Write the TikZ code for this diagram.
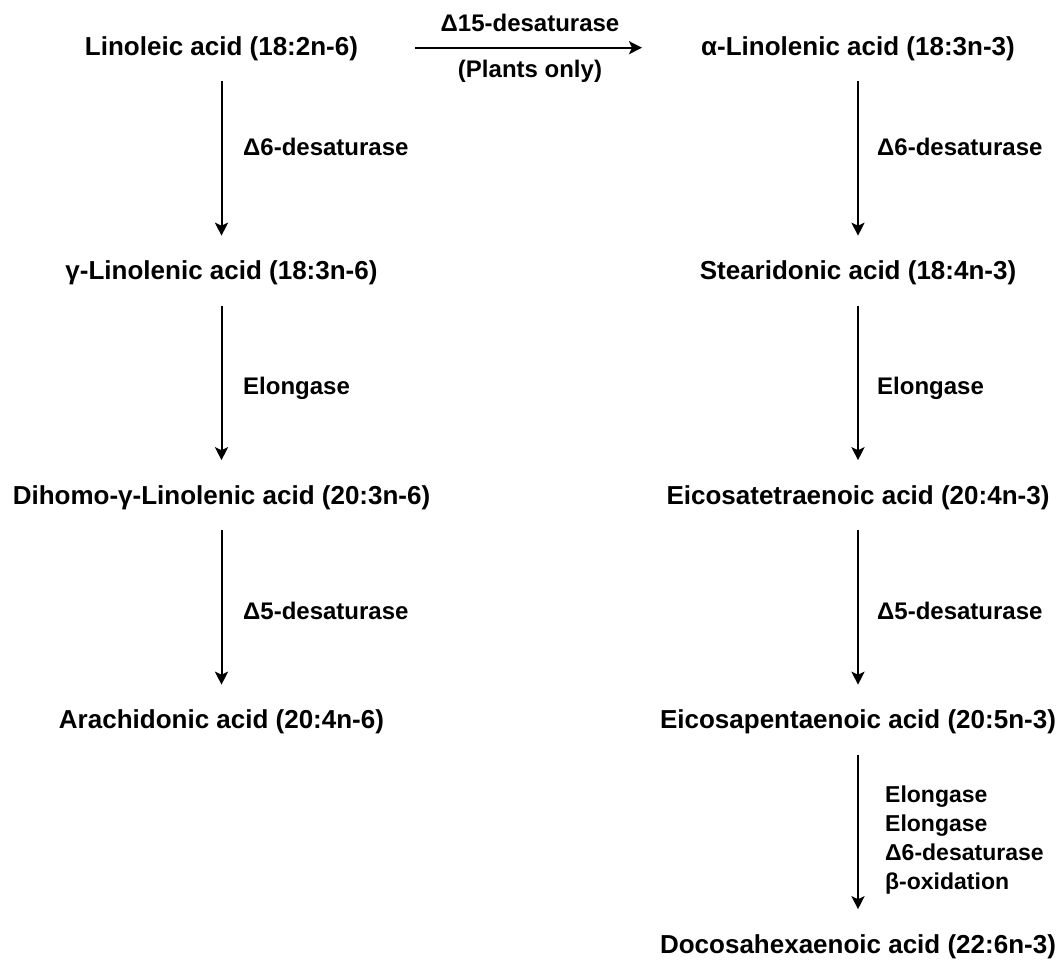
\documentclass[tikz,border=0pt]{standalone}
\usepackage{fontspec}
\setmainfont{Liberation Sans}
\usetikzlibrary{arrows.meta}
\tikzset{
  acid/.style={font=\fontsize{26}{30}\selectfont\bfseries, inner sep=0pt, text height=18.6pt, text depth=0pt, anchor=base},
  enz/.style={font=\fontsize{24}{28}\selectfont\bfseries, inner sep=0pt, anchor=base west},
  enzs/.style={font=\fontsize{23}{28}\selectfont\bfseries, inner sep=0pt, anchor=base west},
  enzc/.style={font=\fontsize{24}{28}\selectfont\bfseries, inner sep=0pt, anchor=base},
  conv/.style={line width=2pt, -{Stealth[length=13pt,width=13pt,inset=3pt]}},
  vconv/.style={conv, shorten <=26pt, shorten >=25pt}
}
\begin{document}
\begin{tikzpicture}[x=1pt,y=-1pt]
\useasboundingbox (0,0) rectangle (1063,961);
% left column
\node[acid] (l1) at (221.5,55) {Linoleic acid (18:2n-6)};
\node[acid] (l2) at (221.5,279.5) {γ-Linolenic acid (18:3n-6)};
\node[acid] (l3) at (221.5,504) {Dihomo-γ-Linolenic acid (20:3n-6)};
\node[acid] (l4) at (221.5,728.5) {Arachidonic acid (20:4n-6)};
% right column
\node[acid] (r1) at (858,55) {α-Linolenic acid (18:3n-3)};
\node[acid] (r2) at (858,279.5) {Stearidonic acid (18:4n-3)};
\node[acid] (r3) at (858,504) {Eicosatetraenoic acid (20:4n-3)};
\node[acid] (r4) at (858,728.5) {Eicosapentaenoic acid (20:5n-3)};
\node[acid] (r5) at (858,953) {Docosahexaenoic acid (22:6n-3)};
% horizontal conversion
\draw[conv, shorten <=57pt, shorten >=59pt] ([yshift=-2pt]l1.east) -- ([yshift=-2pt]r1.west);
\node[enzc] (h1) at (530,31) {Δ15-desaturase};
\node[enzc] (h2) at (530,77) {(Plants only)};
% vertical conversions
\draw[vconv] (l1.south) -- (l2.north);
\draw[vconv] (l2.south) -- (l3.north);
\draw[vconv] (l3.south) -- (l4.north);
\draw[vconv] (r1.south) -- (r2.north);
\draw[vconv] (r2.south) -- (r3.north);
\draw[vconv] (r3.south) -- (r4.north);
\draw[vconv] (r4.south) -- (r5.north);
% enzyme labels
\node[enz] (le1) at (243,155) {Δ6-desaturase};
\node[enz] (le2) at (243,394) {Elongase};
\node[enz] (le3) at (243,619) {Δ5-desaturase};
\node[enz] (re1) at (877,155) {Δ6-desaturase};
\node[enz] (re2) at (877,394) {Elongase};
\node[enz] (re3) at (877,619) {Δ5-desaturase};
\node[enzs] (re4a) at (885,802.5) {Elongase};
\node[enzs] (re4b) at (885,831.5) {Elongase};
\node[enzs] (re4c) at (885,860.5) {Δ6-desaturase};
\node[enzs] (re4d) at (885,889.5) {β-oxidation};
\end{tikzpicture}
\end{document}
